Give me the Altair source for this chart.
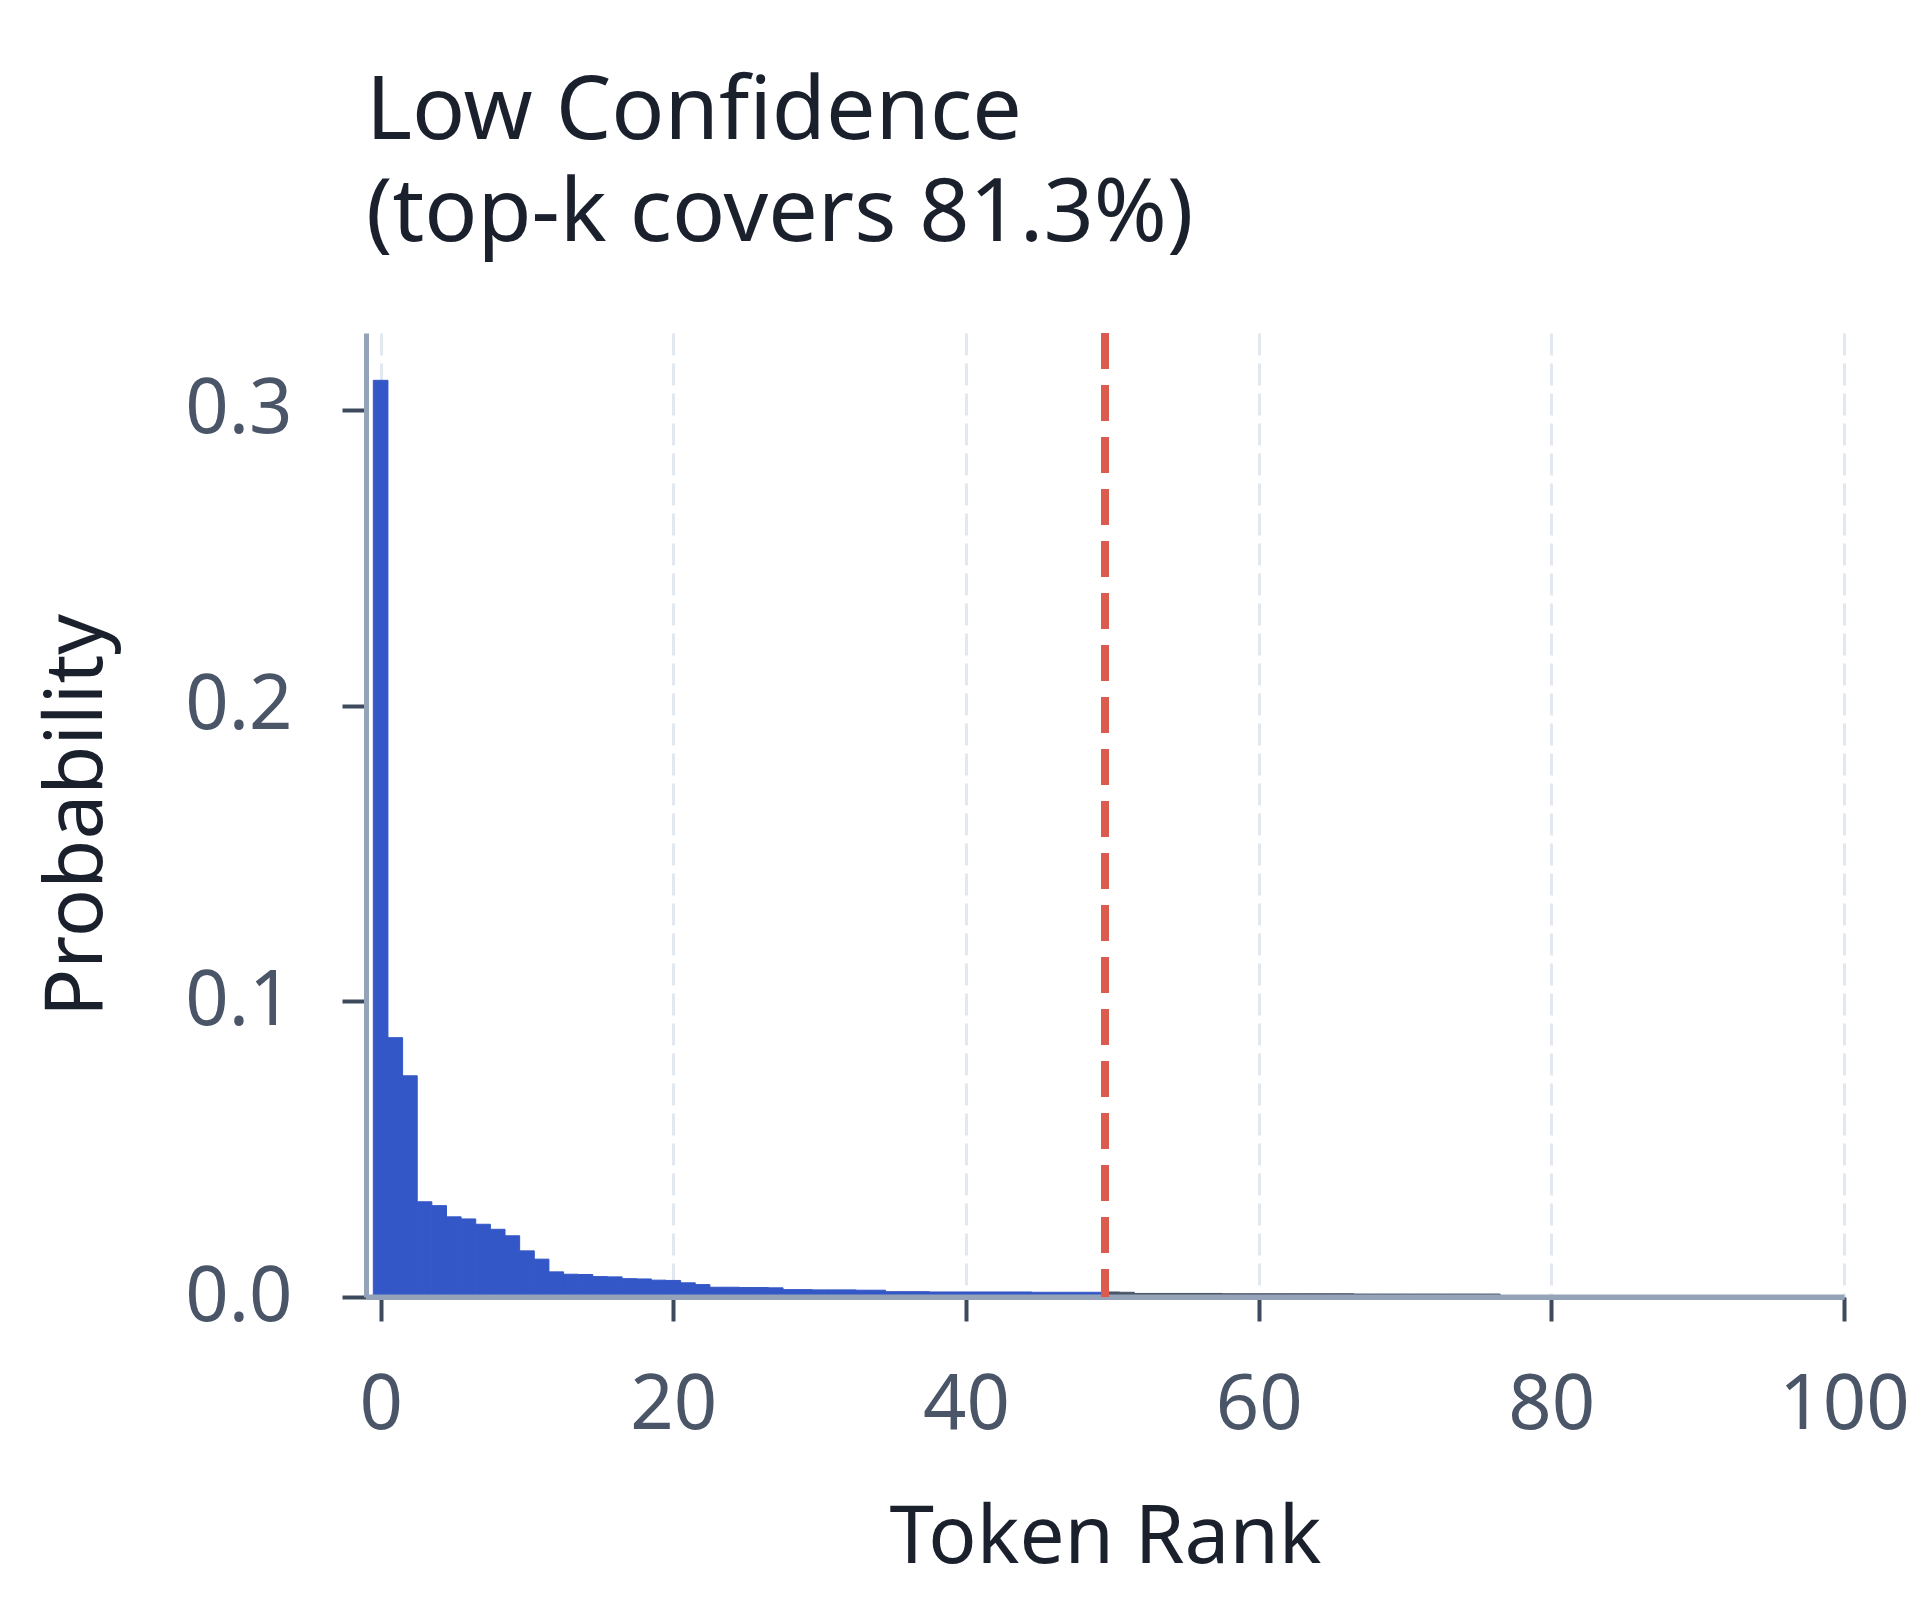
import pandas as pd
import altair as alt

# token rank probabilities
ranks = list(range(77))
probs = [
    0.310, 0.0877, 0.0748, 0.0322, 0.0309, 0.0271, 0.0264, 0.0246, 0.0229, 0.0207,
    0.0156, 0.0128, 0.0085, 0.0077, 0.0076, 0.0069, 0.0068, 0.0062, 0.0061, 0.0057,
    0.0056, 0.0048, 0.0042, 0.0033, 0.0033, 0.0032, 0.0032, 0.0031, 0.0025, 0.0025,
    0.0024, 0.0024, 0.0024, 0.0023, 0.0023, 0.0018, 0.0018, 0.0018, 0.0017, 0.0017,
    0.0017, 0.0017, 0.0017, 0.0017, 0.0017, 0.0016, 0.0016, 0.0016, 0.0016, 0.0016,
    0.0017, 0.0016, 0.0012, 0.0012, 0.0012, 0.0012, 0.0012, 0.0012, 0.0011, 0.0011,
    0.0011, 0.0011, 0.0011, 0.0011, 0.0011, 0.0011, 0.0011, 0.0010, 0.0010, 0.0010,
    0.0010, 0.0010, 0.0010, 0.0010, 0.0010, 0.0010, 0.0010,
]
top_k = 50
x_ticks = [0, 20, 40, 60, 80, 100]
y_ticks = [0.0, 0.1, 0.2, 0.3]
title_lines = ["Low Confidence", "(top-k covers 81.3%)"]

df = pd.DataFrame({"rank": ranks, "prob": probs})
cut = pd.DataFrame({"cut": [top_k - 0.5], "base": [0.0]})

FONT = "Noto Sans"
BLUE = "#3457c7"
GREY = "#4a5568"
x_scale = alt.Scale(domain=[-1, 100], nice=False, zero=False)
kept = alt.datum.rank < top_k

bars = alt.Chart(df).transform_calculate(
    x0="datum.rank - 0.5", x1="datum.rank + 0.5"
).mark_rect(strokeWidth=1).encode(
    x=alt.X("x0:Q", scale=x_scale, title="Token Rank",
            axis=alt.Axis(values=x_ticks, format="d", grid=True, gridDash=[22, 8],
                          gridColor="#e2e8f0", gridWidth=3, labelFlush=False,
                          labelPadding=47, titlePadding=56)),
    x2="x1:Q",
    y=alt.Y("prob:Q", scale=alt.Scale(domain=[0, 0.326], nice=False), title="Probability",
            axis=alt.Axis(values=y_ticks, format=".1f", grid=False,
                          labelPadding=50, titlePadding=66)),
    color=alt.condition(kept, alt.value(BLUE), alt.value(GREY)),
    stroke=alt.condition(kept, alt.value(BLUE), alt.value(GREY)),
)

# bottom axis line drawn above the bars
base = alt.Chart(cut).mark_rule(color="#94a3b8", strokeWidth=5).encode(
    y=alt.Y("base:Q")
)

rule = alt.Chart(cut).mark_rule(color="#dd5a4e", strokeWidth=8, strokeDash=[36, 16]).encode(
    x=alt.X("cut:Q", scale=x_scale)
)

chart = alt.layer(bars, base, rule).properties(
    width=1478,
    height=964,
    title=alt.TitleParams(title_lines, anchor="start", frame="group", fontSize=88, font=FONT,
                          fontWeight="normal", color="#1a202c", lineHeight=102, offset=70),
    autosize=alt.AutoSizeParams(type="none"),
    padding={"left": 358, "top": 325, "right": 67, "bottom": 290},
).configure_view(stroke=None).configure_axis(
    labelFont=FONT, labelFontSize=76, labelColor="#4a5568",
    titleFont=FONT, titleFontSize=80, titleFontWeight="normal", titleColor="#1a202c",
    domainColor="#94a3b8", domainWidth=5,
    tickColor="#3d4a5c", tickWidth=4, tickSize=24,
)

chart.save("out.html", embed_options={"renderer": "svg", "actions": False})
